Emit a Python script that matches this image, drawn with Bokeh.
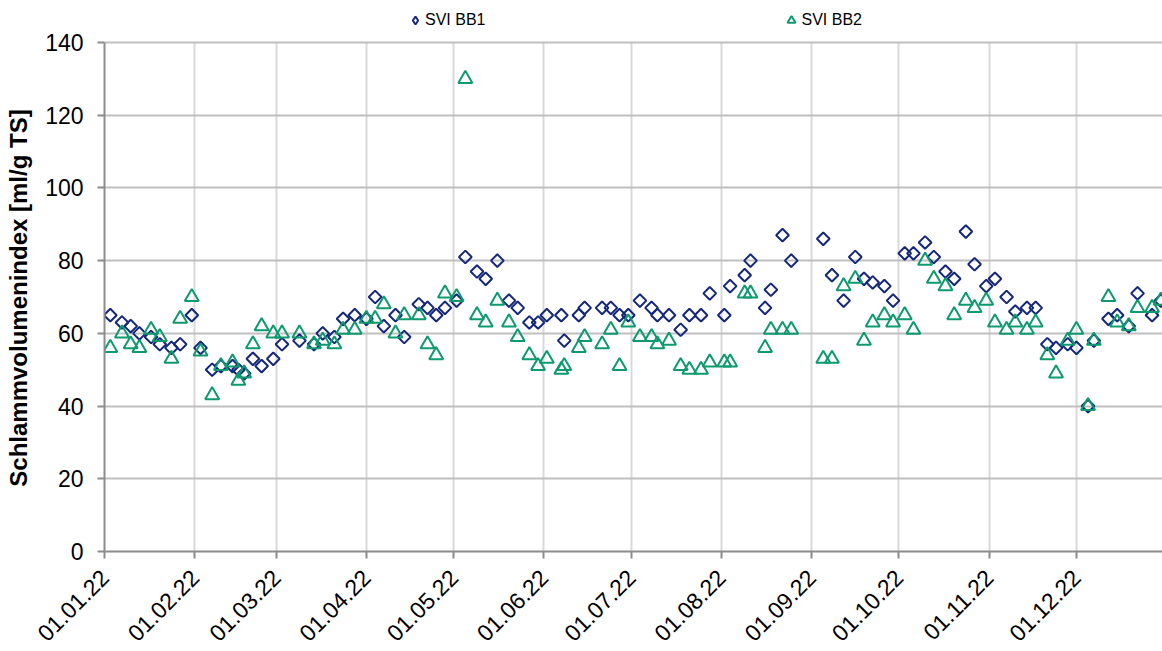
from datetime import datetime
from math import pi

from bokeh.plotting import figure
from bokeh.models import (FixedTicker, DatetimeTickFormatter, Legend, LegendItem)
from bokeh.embed import file_html
from bokeh.resources import INLINE

# ---------------- data ----------------
dates = [
    "2022-01-03", "2022-01-07", "2022-01-10", "2022-01-13", "2022-01-17", "2022-01-20",
    "2022-01-24", "2022-01-27", "2022-01-31",
    "2022-02-03", "2022-02-07", "2022-02-10", "2022-02-14", "2022-02-16", "2022-02-18",
    "2022-02-21", "2022-02-24", "2022-02-28",
    "2022-03-03", "2022-03-09", "2022-03-14", "2022-03-17", "2022-03-21", "2022-03-24",
    "2022-03-28",
    "2022-04-01", "2022-04-04", "2022-04-07", "2022-04-11", "2022-04-14", "2022-04-19",
    "2022-04-22", "2022-04-25", "2022-04-28",
    "2022-05-02", "2022-05-05", "2022-05-09", "2022-05-12", "2022-05-16", "2022-05-20",
    "2022-05-23", "2022-05-27", "2022-05-30",
    "2022-06-02", "2022-06-07", "2022-06-08", "2022-06-13", "2022-06-15", "2022-06-21",
    "2022-06-24", "2022-06-27", "2022-06-30",
    "2022-07-04", "2022-07-08", "2022-07-10", "2022-07-14", "2022-07-18", "2022-07-21",
    "2022-07-25", "2022-07-28",
    "2022-08-02", "2022-08-04", "2022-08-09", "2022-08-11", "2022-08-16", "2022-08-18",
    "2022-08-22", "2022-08-25",
    "2022-09-05", "2022-09-08", "2022-09-12", "2022-09-16", "2022-09-19", "2022-09-22",
    "2022-09-26", "2022-09-29",
    "2022-10-03", "2022-10-06", "2022-10-10", "2022-10-13", "2022-10-17", "2022-10-20",
    "2022-10-24", "2022-10-27", "2022-10-31",
    "2022-11-03", "2022-11-07", "2022-11-10", "2022-11-14", "2022-11-17", "2022-11-21",
    "2022-11-24", "2022-11-28",
    "2022-12-01", "2022-12-05", "2022-12-07", "2022-12-12", "2022-12-15", "2022-12-19",
    "2022-12-22", "2022-12-27", "2022-12-30",
]

svi_bb1 = [
    65, 63, 62, 60, 59, 57, 56, 57, 65,
    56, 50, 51, 51, 50, 49, 53, 51, 53,
    57, 58, 57, 60, 59, 64, 65,
    64, 70, 62, 65, 59, 68, 67, 65, 67,
    69, 81, 77, 75, 80, 69, 67, 63, 63,
    65, 65, 58, 65, 67, 67, 67, 65, 65,
    69, 67, 65, 65, 61, 65, 65, 71,
    65, 73, 76, 80, 67, 72, 87, 80,
    86, 76, 69, 81, 75, 74, 73, 69,
    82, 82, 85, 81, 77, 75, 88, 79, 73,
    75, 70, 66, 67, 67, 57, 56, 57,
    56, 40, 58, 64, 65, 62, 71, 65, 69,
]

svi_bb2 = [
    56, 60, 57, 56, 61, 59, 53, 64, 70,
    55, 43, 51, 52, 47, 49, 57, 62, 60,
    60, 60, 57, 58, 57, 61, 61,
    64, 64, 68, 60, 65, 65, 57, 54, 71,
    70, 130, 65, 63, 69, 63, 59, 54, 51,
    53, 50, 51, 56, 59, 57, 61, 51, 63,
    59, 59, 57, 58, 51, 50, 50, 52,
    52, 52, 71, 71, 56, 61, 61, 61,
    53, 53, 73, 75, 58, 63, 65, 63,
    65, 61, 80, 75, 73, 65, 69, 67, 69,
    63, 61, 63, 61, 63, 54, 49, 58,
    61, 40, 58, 70, 63, 62, 67, 67, 69,
]

series_names = ["SVI BB1", "SVI BB2"]
y_ticks = [0, 20, 40, 60, 80, 100, 120, 140]
month_starts = [f"2022-{m:02d}-01" for m in range(1, 13)]
y_label = "Schlammvolumenindex [ml/g TS]"

# ---------------- figure ----------------
FONT = "Liberation Sans"
BLUE = "#15277a"
GREEN = "#0e9a6e"

x = [datetime.strptime(d, "%Y-%m-%d") for d in dates]
epoch = datetime(1970, 1, 1)
tick_ms = [(datetime.strptime(d, "%Y-%m-%d") - epoch).total_seconds() * 1000 for d in month_starts]

# frame extends above the 140 line so the legend can sit inside it (top at page y=4)
Y_TOP = 140 * (551 - 4) / (551 - 42)

p = figure(width=1162, height=651, x_axis_type="datetime",
           x_range=(datetime(2022, 1, 1), datetime(2022, 12, 30, 14)),
           y_range=(0, Y_TOP),
           output_backend="svg", toolbar_location=None,
           min_border_left=104, min_border_right=0, min_border_top=4, min_border_bottom=100)
p.outline_line_color = None
p.background_fill_color = "white"
p.border_fill_color = "white"

# axes
p.xaxis.ticker = FixedTicker(ticks=tick_ms)
fmt = "%d.%m.%y"
p.xaxis.formatter = DatetimeTickFormatter(milliseconds=fmt, seconds=fmt, minsec=fmt, minutes=fmt,
                                          hourmin=fmt, hours=fmt, days=fmt, months=fmt, years=fmt)
p.yaxis.ticker = FixedTicker(ticks=y_ticks)
p.yaxis.bounds = (0, 140)
for ax in (p.xaxis[0], p.yaxis[0]):
    ax.axis_line_color = "#8c8c8c"
    ax.axis_line_width = 2
    ax.major_tick_line_color = "#8c8c8c"
    ax.major_tick_line_width = 2
    ax.major_tick_out = 7
    ax.major_tick_in = 0
    ax.minor_tick_line_color = None
    ax.major_label_text_font = FONT
    ax.major_label_text_color = "black"

p.yaxis.major_label_text_font_size = "23px"
p.yaxis.major_label_standoff = 14
p.xaxis.major_label_text_font_size = "23px"
p.xaxis.major_label_orientation = pi / 4
p.xaxis.major_label_standoff = 15

# trailing no-break spaces centre the label on the 0..140 part of the axis
p.yaxis.axis_label = y_label + "\u00a0" * 6
p.yaxis.axis_label_text_font = FONT
p.yaxis.axis_label_text_font_style = "bold"
p.yaxis.axis_label_text_font_size = "24px"
p.yaxis.axis_label_text_color = "black"
p.yaxis.axis_label_standoff = 10

# grids
p.xgrid.grid_line_color = "#d9d9d9"
p.xgrid.grid_line_width = 2
p.xgrid.cross_bounds = (0, 140)
p.ygrid.grid_line_color = "#c0c0c0"
p.ygrid.grid_line_width = 2

# markers
r1 = p.scatter(x, svi_bb1, marker="square", angle=pi / 4, size=9,
               fill_color=None, line_color=BLUE, line_width=2)
r2 = p.scatter(x, svi_bb2, marker="triangle", size=14,
               fill_color=None, line_color=GREEN, line_width=2)

# hidden renderers that only provide the legend keys (diamond / triangle)
l1 = p.scatter(x, svi_bb1, marker="diamond", fill_color=None, line_color=BLUE, line_width=2,
               visible=False)
l2 = p.scatter(x, svi_bb2, marker="triangle", fill_color=None, line_color=GREEN, line_width=2,
               visible=False)

legend = Legend(items=[LegendItem(label=series_names[0], renderers=[l1]),
                       LegendItem(label=series_names[1], renderers=[l2])],
                location=(301, 521), orientation="horizontal", spacing=296,
                padding=0, margin=0, border_line_color=None, background_fill_alpha=0,
                inactive_fill_alpha=0,
                label_text_font=FONT, label_text_font_size="16px", label_text_color="black",
                glyph_width=20, glyph_height=20, label_standoff=0, label_height=20)
p.add_layout(legend)

open("out.html", "w").write(file_html(p, INLINE))
